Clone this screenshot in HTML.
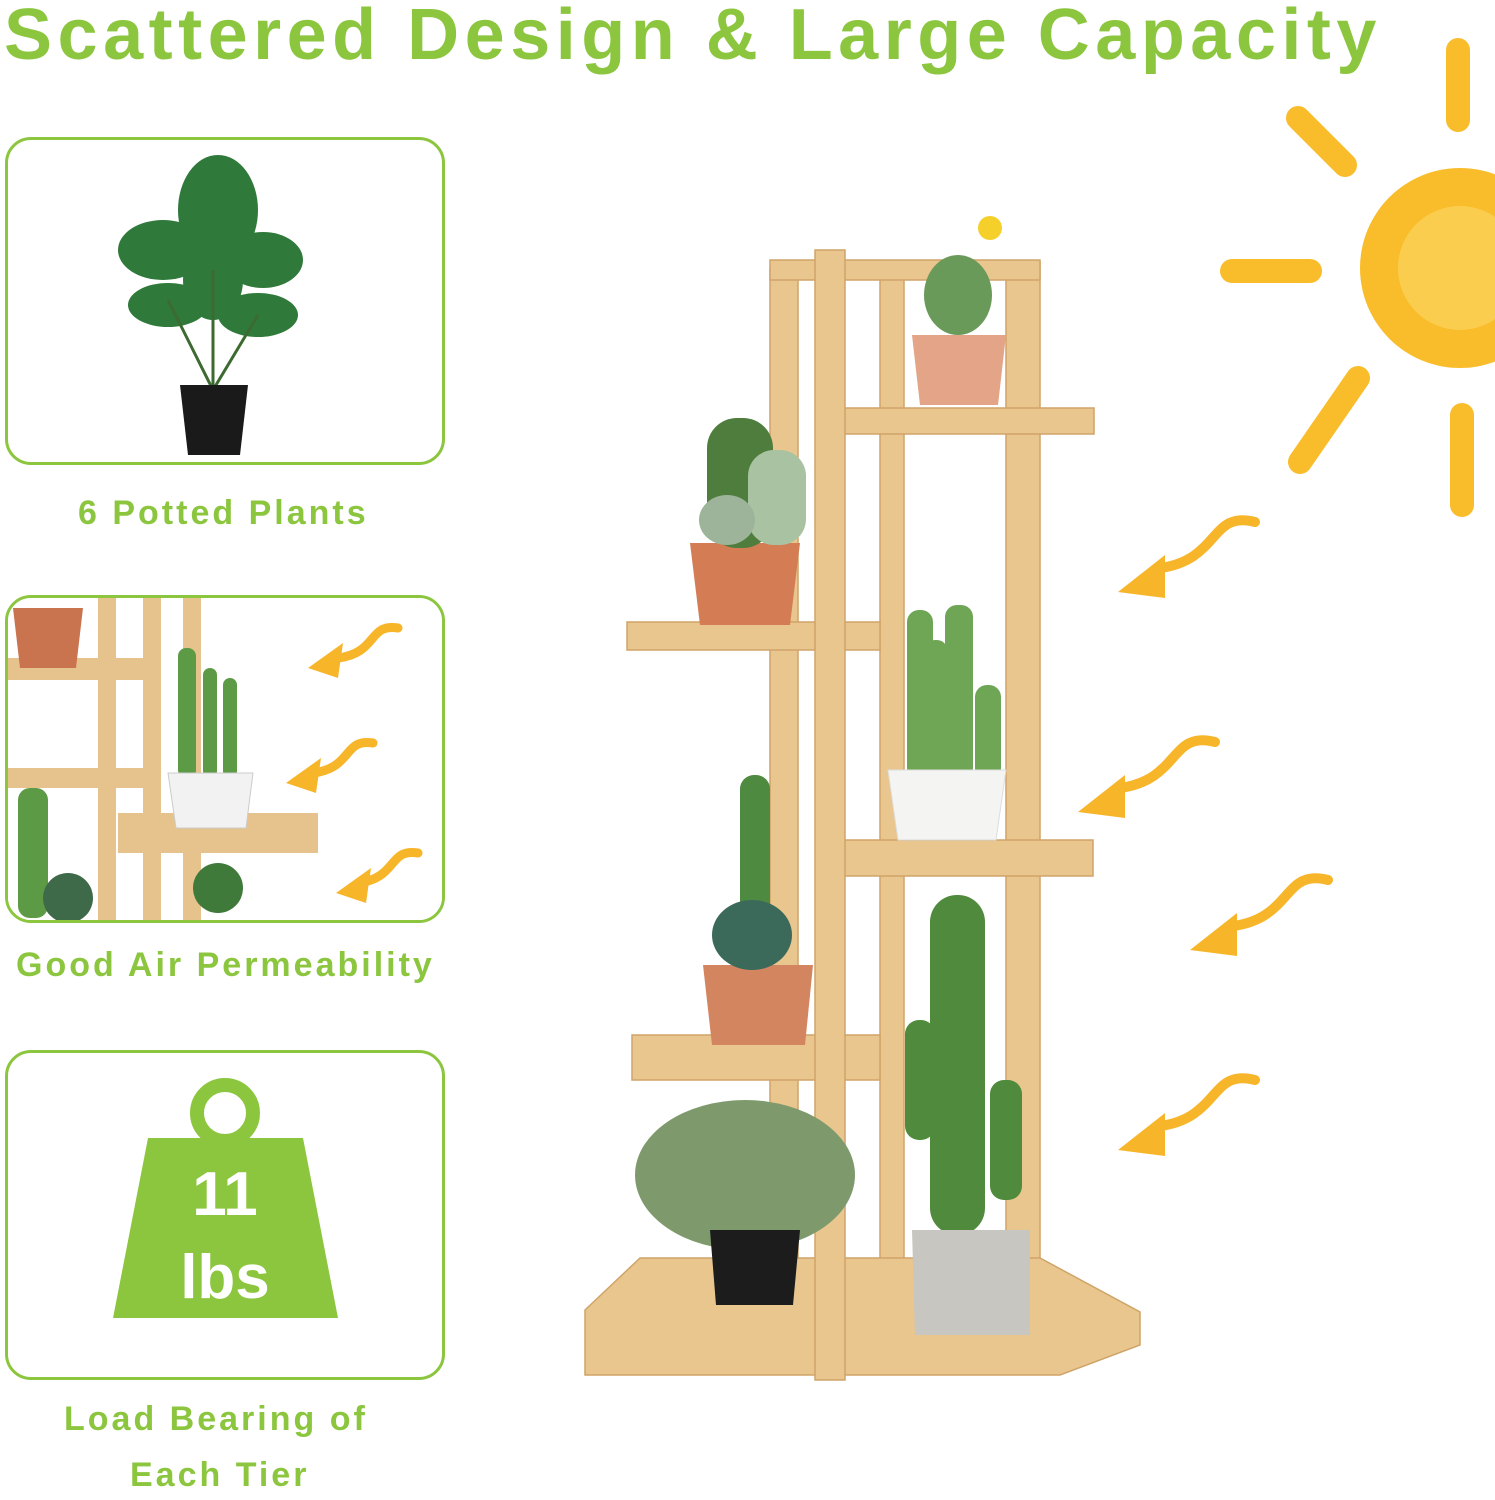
<!DOCTYPE html>
<html><head><meta charset="utf-8"><style>
body{margin:0;background:#fff;width:1495px;height:1500px;overflow:hidden;position:relative;font-family:"Liberation Sans",sans-serif}
.t{position:absolute;color:#8cc63f;font-weight:bold;white-space:nowrap}
.c{letter-spacing:3px}
.box{position:absolute;left:5px;width:434px;border:3px solid #8cc63f;border-radius:26px;overflow:hidden;background:#fff}
</style></head><body>
<div class="t" style="left:4px;top:-6px;font-size:72px;letter-spacing:5.5px">Scattered Design &amp; Large Capacity</div>

<div class="box" style="top:137px;height:322px">
<svg width="434" height="322">
<g fill="#2f7a3a"><ellipse cx="210" cy="70" rx="40" ry="55"/><ellipse cx="155" cy="110" rx="45" ry="30"/><ellipse cx="255" cy="120" rx="40" ry="28"/><ellipse cx="160" cy="165" rx="40" ry="22"/><ellipse cx="250" cy="175" rx="40" ry="22"/><ellipse cx="205" cy="140" rx="30" ry="40"/></g>
<g stroke="#3c6a30" stroke-width="3"><line x1="205" y1="250" x2="205" y2="130"/><line x1="205" y1="250" x2="160" y2="160"/><line x1="205" y1="250" x2="250" y2="175"/></g>
<path d="M172 245 H240 L232 315 H180 Z" fill="#1a1a1a"/>
</svg></div>
<div class="t c" style="left:78px;top:494px;font-size:34px">6 Potted Plants</div>

<div class="box" style="top:595px;height:322px">
<svg width="434" height="322">
<rect x="0" y="0" width="434" height="322" fill="#fff"/>
<g fill="#e6c28c"><rect x="90" y="0" width="18" height="322"/><rect x="135" y="0" width="18" height="322"/><rect x="175" y="0" width="18" height="322"/><rect x="0" y="60" width="140" height="22"/><rect x="0" y="170" width="150" height="20"/><rect x="110" y="215" width="200" height="40"/></g>
<path d="M5 10 H75 L68 70 H12 Z" fill="#c9744f"/>
<g fill="#5d9a45"><rect x="170" y="50" width="18" height="130" rx="8"/><rect x="195" y="70" width="14" height="110" rx="7"/><rect x="215" y="80" width="14" height="100" rx="7"/><rect x="10" y="190" width="30" height="130" rx="12"/></g>
<path d="M160 175 H245 L238 230 H168 Z" fill="#f2f2f2" stroke="#ccc"/>
<circle cx="210" cy="290" r="25" fill="#3f7a3a"/><circle cx="60" cy="300" r="25" fill="#3f6a4a"/>
<g stroke="#f7b52a" stroke-width="9" fill="none" stroke-linecap="round"><path d="M390 30 C360 25 370 55 330 60"/><path d="M365 145 C335 140 345 170 305 175"/><path d="M410 255 C380 250 390 280 350 285"/></g>
<g fill="#f7b52a"><path d="M300 70 L335 45 L330 80 Z"/><path d="M278 185 L313 160 L308 195 Z"/><path d="M328 295 L363 270 L358 305 Z"/></g>
</svg></div>
<div class="t c" style="left:16px;top:946px;font-size:34px">Good Air Permeability</div>

<div class="box" style="top:1050px;height:324px">
<svg width="434" height="324">
<circle cx="217" cy="60" r="28" fill="none" stroke="#8cc63f" stroke-width="14"/>
<path d="M140 85 H295 L330 265 H105 Z" fill="#8cc63f"/>
<text x="217" y="162" text-anchor="middle" font-size="62" font-weight="bold" fill="#fff" font-family="Liberation Sans">11</text>
<text x="217" y="245" text-anchor="middle" font-size="62" font-weight="bold" fill="#fff" font-family="Liberation Sans">lbs</text>
</svg></div>
<div class="t c" style="left:64px;top:1400px;font-size:34px">Load Bearing of</div>
<div class="t c" style="left:130px;top:1456px;font-size:34px">Each Tier</div>

<svg style="position:absolute;left:0;top:0" width="1495" height="1500">
<circle cx="1460" cy="268" r="100" fill="#f9bd2c"/>
<circle cx="1460" cy="268" r="62" fill="#fbcd4f"/>
<g stroke="#f9bd2c" stroke-width="24" stroke-linecap="round">
<line x1="1458" y1="50" x2="1458" y2="120"/><line x1="1232" y1="271" x2="1310" y2="271"/>
<line x1="1298" y1="118" x2="1345" y2="165"/><line x1="1300" y1="462" x2="1358" y2="378"/>
<line x1="1462" y1="415" x2="1462" y2="505"/></g>
<g stroke="#f7b52a" stroke-width="10" fill="none" stroke-linecap="round">
<path d="M1255 522 C1210 510 1220 560 1160 568"/><path d="M1215 742 C1170 730 1180 780 1120 788"/>
<path d="M1328 880 C1283 868 1293 918 1233 926"/><path d="M1255 1080 C1210 1068 1220 1118 1160 1126"/></g>
<g fill="#f7b52a"><path d="M1118 592 L1165 555 L1165 598 Z"/><path d="M1078 812 L1125 775 L1125 818 Z"/><path d="M1190 950 L1237 913 L1237 956 Z"/><path d="M1118 1150 L1165 1113 L1165 1156 Z"/></g>
<g fill="#e9c68e" stroke="#cfa468" stroke-width="1.5">
<rect x="770" y="268" width="28" height="1040"/><rect x="880" y="270" width="24" height="1000"/>
<rect x="1006" y="262" width="34" height="1030"/>
<rect x="770" y="260" width="270" height="20"/>
<rect x="828" y="408" width="266" height="26"/>
<rect x="627" y="622" width="253" height="28"/>
<rect x="838" y="840" width="255" height="36"/>
<rect x="632" y="1035" width="248" height="45"/>
<path d="M585 1310 L640 1258 H1040 L1140 1312 V1345 L1060 1375 H585 Z"/>
<rect x="815" y="250" width="30" height="1130"/>
</g>
<path d="M912 335 H1006 L998 405 H920 Z" fill="#e3a487"/><ellipse cx="958" cy="295" rx="34" ry="40" fill="#6a9a5a"/><circle cx="990" cy="228" r="12" fill="#f5d02a"/>
<path d="M690 543 H800 L790 625 H700 Z" fill="#d47d55"/>
<rect x="707" y="418" width="66" height="130" rx="30" fill="#4f7d3e"/><rect x="748" y="450" width="58" height="95" rx="26" fill="#a9c3a2"/><ellipse cx="727" cy="520" rx="28" ry="25" fill="#9db49a"/>
<g fill="#6ea655"><rect x="907" y="610" width="26" height="170" rx="12"/><rect x="945" y="605" width="28" height="175" rx="12"/><rect x="975" y="685" width="26" height="95" rx="12"/><rect x="925" y="640" width="22" height="140" rx="10"/></g>
<path d="M888 770 H1006 L996 840 H898 Z" fill="#f4f4f2" stroke="#ddd"/>
<path d="M703 965 H813 L805 1045 H712 Z" fill="#d38560"/>
<rect x="740" y="775" width="30" height="180" rx="14" fill="#4e8a3f"/><ellipse cx="752" cy="935" rx="40" ry="35" fill="#3b6a5a"/>
<g fill="#4f8a3d"><rect x="930" y="895" width="55" height="340" rx="27"/><rect x="905" y="1020" width="30" height="120" rx="14"/><rect x="990" y="1080" width="32" height="120" rx="14"/></g>
<path d="M912 1230 H1030 V1335 H915 Z" fill="#c8c6c1"/>
<ellipse cx="745" cy="1175" rx="110" ry="75" fill="#7e9a6c"/>
<path d="M710 1230 H800 L793 1305 H716 Z" fill="#1c1c1c"/>
</svg>
</body></html>
